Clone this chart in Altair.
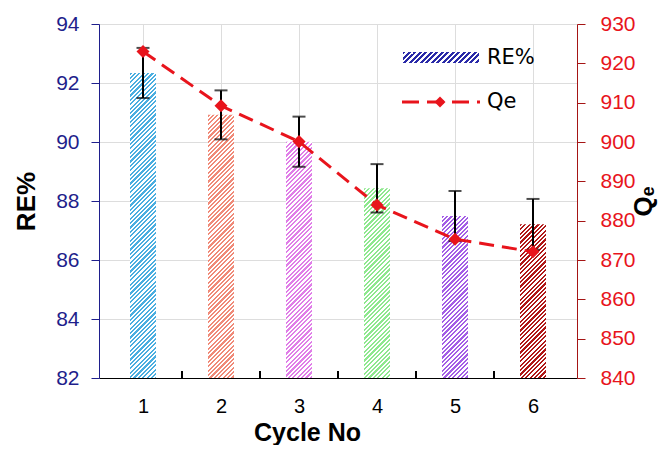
import altair as alt
import pandas as pd

# ---- data ----
cycles = [1, 2, 3, 4, 5, 6]
re_pct = [92.34, 90.92, 90.01, 88.43, 87.49, 87.21]
re_err = [0.85, 0.83, 0.85, 0.82, 0.85, 0.86]
qe = [923.0, 909.2, 900.1, 884.0, 875.3, 872.1]
bar_colors = ["#4aaee0", "#f08a78", "#e07ee8", "#8ee88e", "#a45ee6", "#b01818"]
x_ticks_between = [1.5, 2.5, 3.5, 4.5, 5.5]

W, H = 478, 354
RE_MIN, RE_MAX = 82, 94
BAR_W = 26
FONT = "DejaVu Sans"
NAVY = "#1f1f8c"
RED = "#e8141c"
DARKRED = "#a51515"

df = pd.DataFrame({
    "cycle": cycles,
    "re": re_pct,
    "lo": [v - e for v, e in zip(re_pct, re_err)],
    "hi": [v + e for v, e in zip(re_pct, re_err)],
    "qe": qe,
})
tick_df = pd.DataFrame({"xb": x_ticks_between})
one = pd.DataFrame({"a": [0]})


def hatch(color, w, h, period=4.4, duty=0.5):
    """Diagonal (///) stripes as a linear gradient over the mark's bounding box."""
    lam = (w + h) / (w * w + h * h)
    total = w + h
    n = int(total / period) + 1
    stops = []
    for k in range(n):
        a = min(k * period / total, 1)
        b = min((k + duty) * period / total, 1)
        c = min((k + 1) * period / total, 1)
        stops += [
            alt.GradientStop(color=color, offset=a),
            alt.GradientStop(color=color, offset=b),
            alt.GradientStop(color="white", offset=b),
            alt.GradientStop(color="white", offset=c),
        ]
    return alt.LinearGradient(gradient="linear", stops=stops,
                              x1=0, y1=0, x2=lam * w, y2=lam * h)


x_scale = alt.Scale(domain=[0.5, 6.5], nice=False, zero=False)
x_axis = alt.Axis(values=cycles, title="Cycle No", ticks=False,
                  labelFontSize=20, labelColor="black", labelPadding=18,
                  titleFontSize=25, titleFontWeight="bold", titleColor="black",
                  titleX=208, titleY=62, titleBaseline="alphabetic",
                  domainColor="black", format="d")
x_enc = alt.X("cycle:Q", scale=x_scale, axis=x_axis)

left_scale = alt.Scale(domain=[RE_MIN, RE_MAX], nice=False, zero=False)
left_axis = alt.Axis(values=list(range(82, 95, 2)), title="RE%",
                     orient="left", labelColor=NAVY, labelFontSize=21,
                     labelPadding=12, tickSize=8, tickColor=NAVY,
                     domainColor=NAVY, titleColor="black", titleFontSize=26,
                     titleFontWeight="bold", titlePadding=16)


def yl(field):
    return alt.Y(field, type="quantitative", scale=left_scale, axis=left_axis)


base = alt.Chart(df)

bar_layers = []
for c, v, col in zip(cycles, re_pct, bar_colors):
    h = (v - RE_MIN) / (RE_MAX - RE_MIN) * H
    bar_layers.append(
        base.transform_filter(alt.datum.cycle == c)
        .mark_bar(size=BAR_W, fill=hatch(col, BAR_W, h))
        .encode(x=x_enc, y=yl("re"), y2=alt.datum(RE_MIN))
    )

err_rule = base.mark_rule(color="black", strokeWidth=2).encode(
    x=x_enc, y=yl("lo"), y2="hi:Q")
cap_lo = base.mark_tick(color="black", thickness=2, size=13, orient="horizontal").encode(
    x=x_enc, y=yl("lo"))
cap_hi = base.mark_tick(color="black", thickness=2, size=13, orient="horizontal").encode(
    x=x_enc, y=yl("hi"))

inner_ticks = alt.Chart(tick_df).mark_rule(color="black", strokeWidth=2).encode(
    x=alt.X("xb:Q", scale=x_scale, axis=x_axis),
    y=alt.value(H), y2=alt.value(H - 7))

left = alt.layer(*bar_layers, err_rule, cap_lo, cap_hi, inner_ticks)

right_scale = alt.Scale(domain=[840, 930], nice=False, zero=False)
right_axis = alt.Axis(values=list(range(840, 931, 10)), title="Qₑ",
                      orient="right", labelColor=RED, labelFontSize=21,
                      labelPadding=15, tickSize=8, tickColor=DARKRED,
                      domainColor=DARKRED, titleColor="black", titleFontSize=26,
                      titleFontWeight="bold", titleAngle=270, titlePadding=21)
y_right = alt.Y("qe:Q", scale=right_scale, axis=right_axis)

qe_line = base.mark_line(color=RED, strokeDash=[15, 8], strokeWidth=3).encode(x=x_enc, y=y_right)
qe_pts = base.mark_point(shape="diamond", filled=True, size=170, color=RED, opacity=1).encode(
    x=x_enc, y=y_right)
right = alt.layer(qe_line, qe_pts)

# ---- hand-built legend ----
leg = alt.Chart(one)
leg_swatch = leg.mark_rect(fill=hatch("#2a2aa8", 76, 11, period=5.5)).encode(
    x=alt.value(304), x2=alt.value(380), y=alt.value(28), y2=alt.value(39))
leg_re = leg.mark_text(text="RE%", align="left", baseline="middle", fontSize=21,
                       font=FONT, color="black").encode(x=alt.value(388), y=alt.value(34))
leg_line = leg.mark_rule(color=RED, strokeWidth=3, strokeDash=[17, 8]).encode(
    x=alt.value(303), x2=alt.value(381), y=alt.value(78))
leg_pt = leg.mark_point(shape="diamond", filled=True, size=120, color=RED, opacity=1).encode(
    x=alt.value(341), y=alt.value(78))
leg_qe = leg.mark_text(text="Qe", align="left", baseline="middle", fontSize=21,
                       font=FONT, color="black").encode(x=alt.value(388), y=alt.value(78))

chart = alt.layer(left, right, leg_swatch, leg_re, leg_line, leg_pt, leg_qe).resolve_scale(
    y="independent"
).properties(
    width=W, height=H,
    padding={"left": 91, "top": 16, "right": 84, "bottom": 67},
    autosize=alt.AutoSizeParams(type="none"),
).configure_view(
    stroke="black", strokeWidth=2
).configure_axis(
    grid=False, domainWidth=2, tickWidth=2, labelFont=FONT, titleFont=FONT
).configure(background="white")

chart.save("out.html", embed_options={"renderer": "svg", "actions": False})
